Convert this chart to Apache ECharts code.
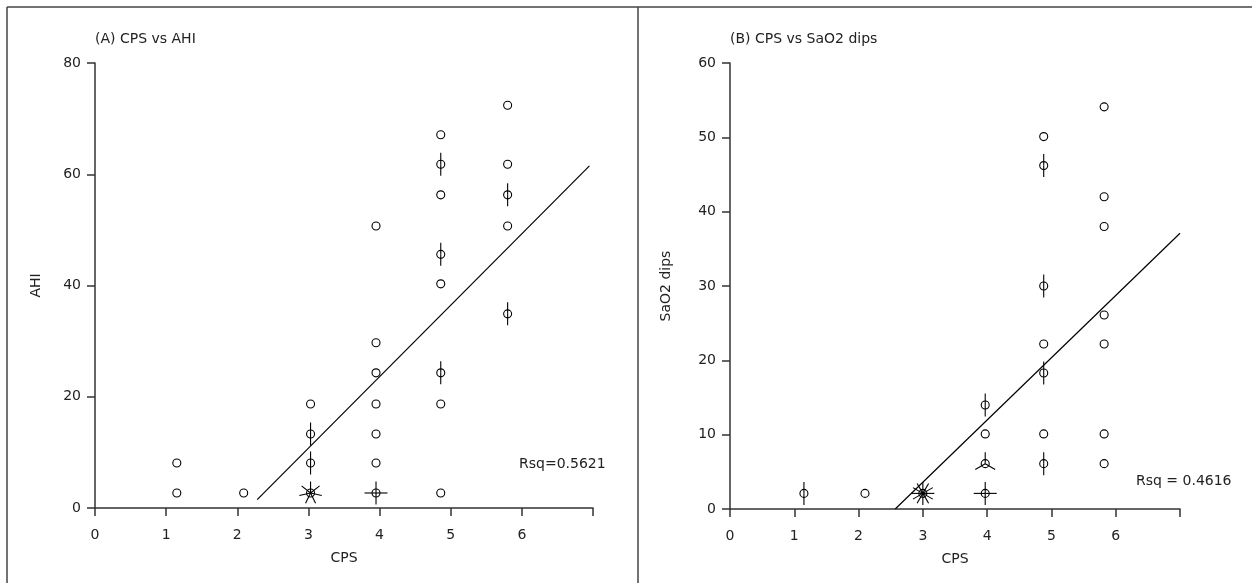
<!DOCTYPE html>
<html>
<head>
<meta charset="utf-8">
<script src="https://cdn.jsdelivr.net/npm/echarts@6/dist/echarts.min.js"></script>
<style>
html,body{margin:0;padding:0;background:#fff;}
#chart{width:1252px;height:583px;}
</style>
</head>
<body>
<div id="chart"></div>
<script>
// Panel A: CPS vs AHI — [CPS, AHI, number of cases at point]
const pointsA = [
  [1.15, 8.1, 1], [1.15, 2.7, 1],
  [2.09, 2.7, 1],
  [3.03, 18.7, 1], [3.03, 13.3, 2], [3.03, 8.1, 2], [3.03, 2.7, 7],
  [3.95, 50.7, 1], [3.95, 29.7, 1], [3.95, 24.3, 1], [3.95, 18.7, 1], [3.95, 13.3, 1], [3.95, 8.1, 1], [3.95, 2.7, 4],
  [4.86, 67.1, 1], [4.86, 61.8, 2], [4.86, 56.3, 1], [4.86, 45.6, 2], [4.86, 40.3, 1], [4.86, 24.3, 2], [4.86, 18.7, 1], [4.86, 2.7, 1],
  [5.80, 72.4, 1], [5.80, 61.8, 1], [5.80, 56.3, 2], [5.80, 50.7, 1], [5.80, 34.9, 2]
];
const fitA = [[2.28, 1.5], [6.95, 61.5]];
const rsqA = 'Rsq=0.5621';

// Panel B: CPS vs SaO2 dips
const pointsB = [
  [1.15, 2.1, 2],
  [2.10, 2.1, 1],
  [3.00, 2.1, 12],
  [3.97, 14.0, 2], [3.97, 10.1, 1], [3.97, 6.1, 3], [3.97, 2.1, 4],
  [4.88, 50.1, 1], [4.88, 46.2, 2], [4.88, 30.0, 2], [4.88, 22.2, 1], [4.88, 18.3, 2], [4.88, 10.1, 1], [4.88, 6.1, 2],
  [5.82, 54.1, 1], [5.82, 42.0, 1], [5.82, 38.0, 1], [5.82, 26.1, 1], [5.82, 22.2, 1], [5.82, 10.1, 1], [5.82, 6.1, 1]
];
const fitB = [[2.57, 0], [7.0, 37.1]];
const rsqB = 'Rsq = 0.4616';

const xTicks = [0, 1, 2, 3, 4, 5, 6, 7];
const yMaxA = 80, yStepA = 20;
const yMaxB = 60, yStepB = 10;

const FONT = 'DejaVu Sans';
const TXT = '#222';
const AX = '#333';

function sunflower(params, api) {
  const p = api.coord([api.value(0), api.value(1)]);
  const n = api.value(2);
  const children = [{
    type: 'circle',
    shape: { cx: p[0], cy: p[1], r: 4 },
    style: { fill: 'none', stroke: '#000', lineWidth: 1.1 }
  }];
  if (n > 1) {
    const L = 11.5;
    for (let i = 0; i < n; i++) {
      const a = i * 2 * Math.PI / n;
      children.push({
        type: 'line',
        shape: { x1: p[0], y1: p[1], x2: p[0] + L * Math.sin(a), y2: p[1] - L * Math.cos(a) },
        style: { stroke: '#000', lineWidth: 1.1 }
      });
    }
  }
  return { type: 'group', children };
}

function xAxis(gridIndex) {
  return {
    gridIndex, type: 'value', min: 0, max: 7, interval: 1,
    name: 'CPS', nameLocation: 'middle', nameGap: 43,
    nameTextStyle: { fontFamily: FONT, fontSize: 14, color: TXT },
    axisLine: { onZero: false, lineStyle: { color: AX, width: 1.5 } },
    axisTick: { length: 8, lineStyle: { color: AX, width: 1.5 } },
    axisLabel: { margin: 20, fontFamily: FONT, fontSize: 14, color: TXT,
      formatter: v => (v === 7 ? '' : String(v)) },
    splitLine: { show: false }
  };
}
function yAxis(gridIndex, name, max, step, gap) {
  return {
    gridIndex, type: 'value', min: 0, max, interval: step,
    name, nameLocation: 'middle', nameGap: gap,
    nameTextStyle: { fontFamily: FONT, fontSize: 14, color: TXT },
    axisLine: { show: true, onZero: false, lineStyle: { color: AX, width: 1.5 } },
    axisTick: { show: true, length: 8, lineStyle: { color: AX, width: 1.5 } },
    axisLabel: { margin: 14, fontFamily: FONT, fontSize: 14, color: TXT },
    splitLine: { show: false }
  };
}

const chart = echarts.init(document.getElementById('chart'), null, { renderer: 'canvas' });
chart.setOption({
  animation: false,
  backgroundColor: '#fff',
  title: [
    { text: '(A) CPS vs AHI', left: 90, top: 27, textStyle: { fontFamily: FONT, fontSize: 14, fontWeight: 'normal', color: TXT } },
    { text: '(B) CPS vs SaO2 dips', left: 725, top: 27, textStyle: { fontFamily: FONT, fontSize: 14, fontWeight: 'normal', color: TXT } }
  ],
  grid: [
    { left: 95, right: 659, top: 63, bottom: 75 },
    { left: 730, right: 72, top: 63, bottom: 74 }
  ],
  xAxis: [xAxis(0), xAxis(1)],
  yAxis: [yAxis(0, 'AHI', yMaxA, yStepA, 52), yAxis(1, 'SaO2 dips', yMaxB, yStepB, 57)],
  series: [
    { type: 'custom', xAxisIndex: 0, yAxisIndex: 0, renderItem: sunflower, data: pointsA, clip: false },
    { type: 'line', xAxisIndex: 0, yAxisIndex: 0, data: fitA, symbol: 'none', lineStyle: { color: '#000', width: 1.2 } },
    { type: 'custom', xAxisIndex: 1, yAxisIndex: 1, renderItem: sunflower, data: pointsB, clip: false },
    { type: 'line', xAxisIndex: 1, yAxisIndex: 1, data: fitB, symbol: 'none', lineStyle: { color: '#000', width: 1.2 } }
  ],
  graphic: [
    { type: 'line', shape: { x1: 7, y1: 7, x2: 1252, y2: 7 }, style: { stroke: '#444', lineWidth: 1.5 } },
    { type: 'line', shape: { x1: 7, y1: 7, x2: 7, y2: 583 }, style: { stroke: '#444', lineWidth: 1.5 } },
    { type: 'line', shape: { x1: 638, y1: 7, x2: 638, y2: 583 }, style: { stroke: '#444', lineWidth: 1.5 } },
    { type: 'text', left: 519, top: 457, style: { text: rsqA, font: '14px "DejaVu Sans"', fill: TXT } },
    { type: 'text', left: 1136, top: 474, style: { text: rsqB, font: '14px "DejaVu Sans"', fill: TXT } }
  ]
});
</script>
</body>
</html>
